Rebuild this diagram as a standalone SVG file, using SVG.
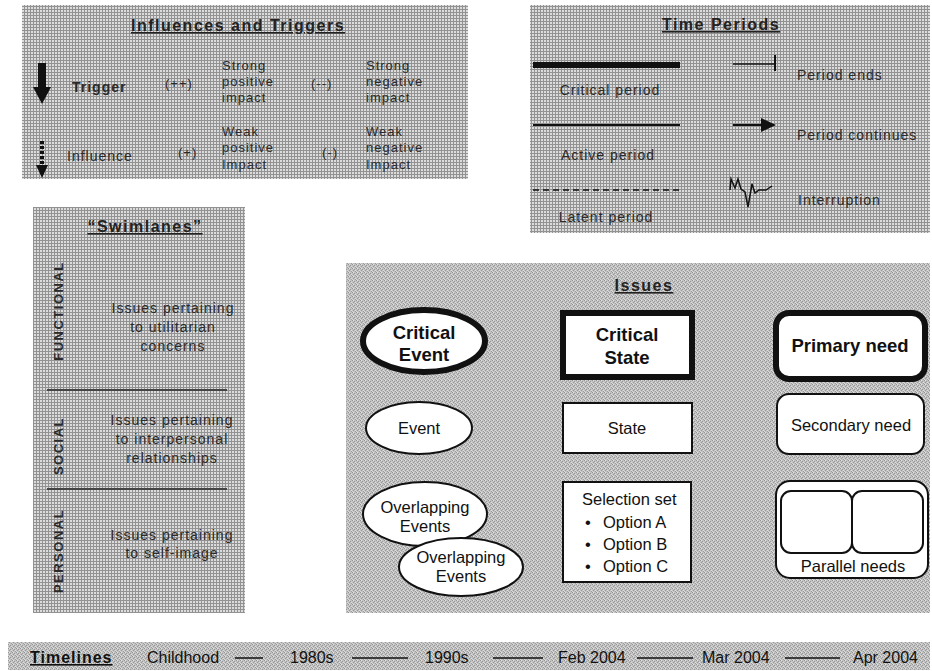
<svg xmlns="http://www.w3.org/2000/svg" width="932" height="671" viewBox="0 0 932 671">
  <defs>
    <!-- coarse screen texture used by the legend panels -->
    <pattern id="mesh" width="3" height="3" patternUnits="userSpaceOnUse">
      <rect width="3" height="3" fill="#dcdcdc"/>
      <rect width="3" height="1" fill="#929292"/>
      <rect width="1" height="3" fill="#929292"/>
    </pattern>
    <!-- fine irregular grain used by the Issues panel and the timeline band -->
    <pattern id="grain" width="4" height="4" patternUnits="userSpaceOnUse">
      <rect width="4" height="4" fill="#c2c2c2"/>
      <rect x="0" y="0" width="1" height="1" fill="#949494"/>
      <rect x="2" y="1" width="1" height="1" fill="#9a9a9a"/>
      <rect x="1" y="2" width="1" height="1" fill="#979797"/>
      <rect x="3" y="3" width="1" height="1" fill="#9c9c9c"/>
      <rect x="1" y="0" width="1" height="1" fill="#e2e2e2"/>
      <rect x="3" y="2" width="1" height="1" fill="#dedede"/>
      <rect x="0" y="3" width="1" height="1" fill="#d8d8d8"/>
    </pattern>
    <style>
      .panel-mesh { fill: url(#mesh); }
      .panel-grain { fill: url(#grain); }
      .lg { font-family: "Liberation Sans", Arial, sans-serif; font-size: 13px; letter-spacing: 1px; fill: #2a2a2a; }
      .lg14 { font-family: "Liberation Sans", Arial, sans-serif; font-size: 14px; letter-spacing: 1px; fill: #2a2a2a; }
      .ttl { font-family: "Liberation Sans", Arial, sans-serif; font-size: 16px; font-weight: bold; fill: #222; text-decoration: underline; letter-spacing: 1.5px; }
      .lane { font-family: "Liberation Sans", Arial, sans-serif; font-size: 13px; font-weight: bold; fill: #2a2a2a; letter-spacing: 1.5px; }
      .node { font-family: "Liberation Sans", Arial, sans-serif; font-size: 16.5px; fill: #111; }
      .node-b { font-family: "Liberation Sans", Arial, sans-serif; font-size: 18.5px; font-weight: bold; fill: #111; }
      .shape { fill: #ffffff; stroke: #111; stroke-width: 2; }
      .shape-b { fill: #ffffff; stroke: #111; stroke-width: 6; }
      .tl { font-family: "Liberation Sans", Arial, sans-serif; font-size: 16px; fill: #111; }
      .tl-link { stroke: #111; stroke-width: 1.5; }
    </style>
  </defs>

  <rect width="932" height="671" fill="#ffffff"/>

  <!-- Influences and Triggers legend -->
  <g id="influences-triggers">
    <rect class="panel-mesh" x="22" y="5" width="446" height="174"/>
    <text class="ttl" x="238" y="31" text-anchor="middle">Influences and Triggers</text>
    <!-- trigger arrow: thick solid -->
    <rect x="38" y="63" width="8" height="26" fill="#111"/>
    <path d="M33,87 L51,87 L42,104 Z" fill="#111"/>
    <text class="lg14" x="72" y="92" font-size="15" font-weight="bold">Trigger</text>
    <text class="lg" x="165" y="88">(++)</text>
    <text class="lg" x="222" y="70">Strong</text>
    <text class="lg" x="222" y="86">positive</text>
    <text class="lg" x="222" y="102">impact</text>
    <text class="lg" x="311" y="88">(--)</text>
    <text class="lg" x="366" y="70">Strong</text>
    <text class="lg" x="366" y="86">negative</text>
    <text class="lg" x="366" y="102">impact</text>
    <!-- influence arrow: dashed -->
    <line x1="42" y1="141" x2="42" y2="166" stroke="#111" stroke-width="4" stroke-dasharray="3 2"/>
    <path d="M36,165 L48,165 L42,178 Z" fill="#111"/>
    <text class="lg14" x="67" y="161">Influence</text>
    <text class="lg" x="178" y="157">(+)</text>
    <text class="lg" x="222" y="136">Weak</text>
    <text class="lg" x="222" y="152">positive</text>
    <text class="lg" x="222" y="169">Impact</text>
    <text class="lg" x="322" y="157">(-)</text>
    <text class="lg" x="366" y="136">Weak</text>
    <text class="lg" x="366" y="152">negative</text>
    <text class="lg" x="366" y="169">Impact</text>
  </g>

  <!-- Time Periods legend -->
  <g id="time-periods">
    <rect class="panel-mesh" x="530" y="5" width="400" height="228"/>
    <text class="ttl" x="721" y="30" text-anchor="middle" letter-spacing="2">Time Periods</text>
    <line x1="533" y1="65" x2="680" y2="65" stroke="#111" stroke-width="6"/>
    <text class="lg14" x="610" y="95" text-anchor="middle" letter-spacing="2">Critical period</text>
    <line x1="533" y1="125" x2="680" y2="125" stroke="#111" stroke-width="2"/>
    <text class="lg14" x="608" y="160" text-anchor="middle">Active period</text>
    <line x1="533" y1="190" x2="680" y2="190" stroke="#111" stroke-width="1.5" stroke-dasharray="6 4"/>
    <text class="lg14" x="606" y="222" text-anchor="middle">Latent period</text>
    <!-- period ends -->
    <line x1="733" y1="64" x2="775" y2="64" stroke="#111" stroke-width="1.5"/>
    <line x1="775" y1="55" x2="775" y2="71" stroke="#111" stroke-width="2"/>
    <text class="lg14" x="797" y="80">Period ends</text>
    <!-- period continues -->
    <line x1="733" y1="125" x2="763" y2="125" stroke="#111" stroke-width="2"/>
    <path d="M761,118 L776,125 L761,132 Z" fill="#111"/>
    <text class="lg14" x="797" y="140">Period continues</text>
    <!-- interruption -->
    <path d="M730,190 L731,179 L735,188 L738,179 L741,189 L745,192 L748,207 L752,184 L755,193 L759,190 L766,190 L772,186" fill="none" stroke="#111" stroke-width="1.5"/>
    <text class="lg14" x="798" y="205">Interruption</text>
  </g>

  <!-- Swimlanes legend -->
  <g id="swimlanes">
    <rect class="panel-mesh" x="33" y="207" width="212" height="406"/>
    <text class="ttl" x="145" y="232" text-anchor="middle" letter-spacing="2">“Swimlanes”</text>
    <g id="lane-functional">
      <text class="lane" transform="translate(63,311) rotate(-90)" text-anchor="middle">FUNCTIONAL</text>
      <text class="lg14" x="173" y="313" text-anchor="middle">Issues pertaining</text>
      <text class="lg14" x="173" y="332" text-anchor="middle">to utilitarian</text>
      <text class="lg14" x="173" y="351" text-anchor="middle">concerns</text>
    </g>
    <line x1="47" y1="390" x2="227" y2="390" stroke="#444" stroke-width="2"/>
    <g id="lane-social">
      <text class="lane" transform="translate(63,446) rotate(-90)" text-anchor="middle">SOCIAL</text>
      <text class="lg14" x="172" y="425" text-anchor="middle">Issues pertaining</text>
      <text class="lg14" x="172" y="444" text-anchor="middle">to interpersonal</text>
      <text class="lg14" x="172" y="463" text-anchor="middle">relationships</text>
    </g>
    <line x1="47" y1="489" x2="227" y2="489" stroke="#444" stroke-width="2"/>
    <g id="lane-personal">
      <text class="lane" transform="translate(63,551) rotate(-90)" text-anchor="middle">PERSONAL</text>
      <text class="lg14" x="172" y="540" text-anchor="middle">Issues pertaining</text>
      <text class="lg14" x="172" y="558" text-anchor="middle">to self-image</text>
    </g>
  </g>

  <!-- Issues legend -->
  <g id="issues">
    <rect class="panel-grain" x="346" y="263" width="584" height="350"/>
    <text class="ttl" x="644" y="291" text-anchor="middle" letter-spacing="0.5">Issues</text>

    <g id="critical-event">
      <ellipse class="shape-b" cx="424" cy="341" rx="61" ry="31"/>
      <text class="node-b" x="424" y="339" text-anchor="middle">Critical</text>
      <text class="node-b" x="424" y="361" text-anchor="middle">Event</text>
    </g>
    <g id="critical-state">
      <rect class="shape-b" x="563" y="313" width="129" height="64"/>
      <text class="node-b" x="627" y="341" text-anchor="middle">Critical</text>
      <text class="node-b" x="627" y="364" text-anchor="middle">State</text>
    </g>
    <g id="primary-need">
      <rect class="shape-b" x="776" y="313" width="149" height="66" rx="13" ry="13"/>
      <text class="node-b" x="850" y="352" text-anchor="middle">Primary need</text>
    </g>

    <g id="event">
      <ellipse class="shape" cx="419" cy="428" rx="53" ry="26"/>
      <text class="node" x="419" y="434" text-anchor="middle">Event</text>
    </g>
    <g id="state">
      <rect class="shape" x="563" y="403" width="129" height="50"/>
      <text class="node" x="627" y="434" text-anchor="middle">State</text>
    </g>
    <g id="secondary-need">
      <rect class="shape" x="777" y="394" width="147" height="60" rx="12" ry="12"/>
      <text class="node" x="851" y="431" text-anchor="middle">Secondary need</text>
    </g>

    <g id="overlapping-events-1">
      <ellipse class="shape" cx="425" cy="514" rx="62" ry="32"/>
      <text class="node" x="425" y="513" text-anchor="middle">Overlapping</text>
      <text class="node" x="425" y="532" text-anchor="middle">Events</text>
    </g>
    <g id="overlapping-events-2">
      <ellipse class="shape" cx="461" cy="567" rx="62" ry="29"/>
      <text class="node" x="461" y="563" text-anchor="middle">Overlapping</text>
      <text class="node" x="461" y="582" text-anchor="middle">Events</text>
    </g>
    <g id="selection-set">
      <rect class="shape" x="563" y="482" width="128" height="100"/>
      <text class="node" x="582" y="505">Selection set</text>
      <text class="node" x="585" y="528">•</text>
      <text class="node" x="603" y="528">Option A</text>
      <text class="node" x="585" y="550">•</text>
      <text class="node" x="603" y="550">Option B</text>
      <text class="node" x="585" y="572">•</text>
      <text class="node" x="603" y="572">Option C</text>
    </g>
    <g id="parallel-needs">
      <rect class="shape" x="776" y="481" width="152" height="97" rx="14" ry="14"/>
      <rect class="shape" x="781" y="491" width="71" height="62" rx="10" ry="10"/>
      <rect class="shape" x="852" y="491" width="71" height="62" rx="10" ry="10"/>
      <text class="node" x="853" y="572" text-anchor="middle">Parallel needs</text>
    </g>
  </g>

  <!-- Timeline band -->
  <g id="timelines">
    <rect class="panel-grain" x="8" y="642" width="922" height="28"/>
    <text class="tl" x="30" y="663" font-size="17" font-weight="bold" letter-spacing="1" text-decoration="underline">Timelines</text>
    <text class="tl" x="147" y="663">Childhood</text>
    <text class="tl" x="290" y="663">1980s</text>
    <text class="tl" x="425" y="663">1990s</text>
    <text class="tl" x="558" y="663">Feb 2004</text>
    <text class="tl" x="702" y="663">Mar 2004</text>
    <text class="tl" x="853" y="663">Apr 2004</text>
  </g>
  <g id="connectors">
    <line class="tl-link" x1="235" y1="658" x2="263" y2="658"/>
    <line class="tl-link" x1="352" y1="658" x2="408" y2="658"/>
    <line class="tl-link" x1="493" y1="658" x2="543" y2="658"/>
    <line class="tl-link" x1="637" y1="658" x2="693" y2="658"/>
    <line class="tl-link" x1="785" y1="658" x2="840" y2="658"/>
  </g>
</svg>
